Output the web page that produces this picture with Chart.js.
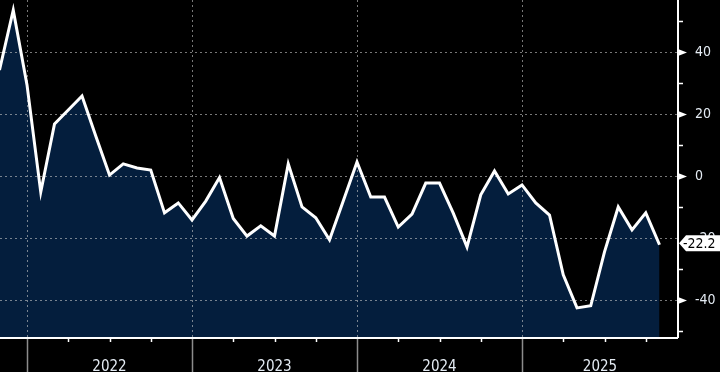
<!DOCTYPE html>
<html>
<head>
<meta charset="utf-8">
<style>
html, body { margin: 0; padding: 0; background: #000; }
#wrap { width: 720px; height: 372px; }
</style>
<script src="https://cdn.jsdelivr.net/npm/chart.js@4.4.1/dist/chart.umd.min.js"></script>
</head>
<body>
<div id="wrap"><canvas id="chart" width="720" height="372"></canvas></div>
<script>
// monthly readings, Nov 2021 .. Nov 2025 (month index 0 = Jan 2022)
const firstMonth = -2;
const values = [
    34.2, 53.5,
    29.4, -5.2, 16.8, 21.3, 25.8, 12.9, 0.3, 3.9, 2.6, 1.9, -11.9, -8.7,
    -14.2, -8.1, -0.5, -13.7, -19.4, -16.1, -19.4, 3.9, -10.0, -13.5, -20.6, -8.1,
    4.5, -6.8, -6.8, -16.5, -12.3, -2.3, -2.3, -12.0, -22.9, -6.1, 1.6, -5.8,
    -2.9, -8.7, -12.6, -31.9, -42.6, -41.9, -24.5, -10.0, -17.4, -11.9, -22.2
];
const years = ['2022', '2023', '2024', '2025'];
const yearStarts = [0, 12, 24, 36];
const yMajorTicks = [-40, -20, 0, 20, 40];
const yMinorTicks = [-50, -30, -10, 10, 30, 50];
const lastLabel = '-22.2';

const xMin = -1.964;
const xMax = 47.345;
const yMin = -52.3;
const yMax = 56.8;

const fontFamily = '"Liberation Sans Narrow", "DejaVu Sans Condensed", "Arial Narrow", Arial, sans-serif';
const labelColor = '#e4ebf3';
const fillColor = '#041e3d';
const gridColor = 'rgba(200, 200, 200, 0.6)';

const points = values.map((v, i) => ({ x: firstMonth + i, y: v }));

// label each year in the middle of the part of it that is on screen
const yearCenters = yearStarts.map(s => (Math.max(s, xMin) + Math.min(s + 12, xMax)) / 2);

function noPadding(scale) {
    scale.paddingTop = 0;
    scale.paddingBottom = 0;
    scale.paddingLeft = 0;
    scale.paddingRight = 0;
}

const decorations = {
    id: 'decorations',
    afterDatasetDraw(chart, args) {
        if (args.index !== 0) return;
        const { ctx, chartArea, scales } = chart;
        ctx.save();
        ctx.strokeStyle = gridColor;
        ctx.lineWidth = 1;
        ctx.setLineDash([2, 3]);
        yMajorTicks.forEach(v => {
            const y = Math.round(scales.y.getPixelForValue(v)) + 0.5;
            ctx.beginPath();
            ctx.moveTo(chartArea.left, y);
            ctx.lineTo(chartArea.right, y);
            ctx.stroke();
        });
        yearStarts.forEach(m => {
            const x = Math.round(scales.x.getPixelForValue(m)) + 0.5;
            ctx.beginPath();
            ctx.moveTo(x, chartArea.top);
            ctx.lineTo(x, chartArea.bottom);
            ctx.stroke();
        });
        ctx.restore();
    },
    afterDraw(chart) {
        const { ctx, chartArea, scales } = chart;
        const right = chartArea.right;
        const bottom = chartArea.bottom;
        ctx.save();

        // year dividers below the axis
        ctx.strokeStyle = '#8c8c8c';
        ctx.lineWidth = 1.5;
        yearStarts.forEach(m => {
            const x = Math.round(scales.x.getPixelForValue(m)) + 0.5;
            ctx.beginPath();
            ctx.moveTo(x, bottom);
            ctx.lineTo(x, chart.height);
            ctx.stroke();
        });

        // quarter ticks
        ctx.strokeStyle = '#fff';
        ctx.lineWidth = 1.5;
        for (let m = Math.ceil(xMin / 3) * 3; m <= xMax; m += 3) {
            if (yearStarts.includes(m)) continue;
            const x = Math.round(scales.x.getPixelForValue(m)) + 0.5;
            ctx.beginPath();
            ctx.moveTo(x, bottom);
            ctx.lineTo(x, bottom + 4);
            ctx.stroke();
        }

        // axis lines
        ctx.lineWidth = 2;
        ctx.beginPath();
        ctx.moveTo(chartArea.left, bottom);
        ctx.lineTo(right, bottom);
        ctx.moveTo(right, chartArea.top);
        ctx.lineTo(right, bottom);
        ctx.stroke();

        // minor y ticks
        ctx.lineWidth = 1.5;
        yMinorTicks.forEach(v => {
            const y = Math.round(scales.y.getPixelForValue(v)) + 0.5;
            ctx.beginPath();
            ctx.moveTo(right, y);
            ctx.lineTo(right + 5, y);
            ctx.stroke();
        });

        // major y markers
        ctx.fillStyle = '#fff';
        yMajorTicks.forEach(v => {
            if (v === -20) return;
            const y = scales.y.getPixelForValue(v) + 0.5;
            ctx.beginPath();
            ctx.moveTo(right, y - 3.5);
            ctx.lineTo(right + 9, y);
            ctx.lineTo(right, y + 3.5);
            ctx.closePath();
            ctx.fill();
        });

        // last value box
        const cy = scales.y.getPixelForValue(values[values.length - 1]) - 1.5;
        ctx.beginPath();
        ctx.moveTo(right + 1, cy);
        ctx.lineTo(right + 8, cy - 8);
        ctx.lineTo(chart.width, cy - 8);
        ctx.lineTo(chart.width, cy + 8);
        ctx.lineTo(right + 8, cy + 8);
        ctx.closePath();
        ctx.fill();
        ctx.fillStyle = '#000';
        ctx.font = '14px ' + fontFamily;
        ctx.textBaseline = 'middle';
        ctx.textAlign = 'left';
        ctx.fillText(lastLabel, right + 5, cy + 1);

        ctx.restore();
    }
};

new Chart(document.getElementById('chart'), {
    type: 'line',
    data: {
        datasets: [{
            data: points,
            borderWidth: 0,
            backgroundColor: fillColor,
            fill: 'start',
            pointRadius: 0,
            order: 1
        }, {
            data: points,
            borderColor: '#fff',
            borderWidth: 3,
            borderJoinStyle: 'miter',
            fill: false,
            pointRadius: 0,
            tension: 0,
            order: 0
        }]
    },
    options: {
        responsive: false,
        animation: false,
        layout: { padding: 0 },
        plugins: {
            legend: { display: false },
            tooltip: { enabled: false }
        },
        scales: {
            x: {
                type: 'linear',
                min: xMin,
                max: xMax,
                grid: { display: false },
                border: { display: false },
                afterBuildTicks: scale => {
                    scale.ticks = yearCenters.map(v => ({ value: v }));
                },
                afterFit: scale => { scale.height = 34; noPadding(scale); },
                ticks: {
                    autoSkip: false,
                    maxRotation: 0,
                    padding: 12,
                    color: labelColor,
                    font: { family: fontFamily, size: 15 },
                    callback: (value, index) => years[index]
                }
            },
            y: {
                position: 'right',
                min: yMin,
                max: yMax,
                grid: { display: false },
                border: { display: false },
                afterBuildTicks: scale => {
                    scale.ticks = yMajorTicks.map(v => ({ value: v }));
                },
                afterFit: scale => { scale.width = 42; noPadding(scale); },
                ticks: {
                    padding: 9,
                    color: labelColor,
                    font: { family: fontFamily, size: 14 },
                    callback: value => String(value)
                }
            }
        }
    },
    plugins: [decorations]
});
</script>
</body>
</html>
